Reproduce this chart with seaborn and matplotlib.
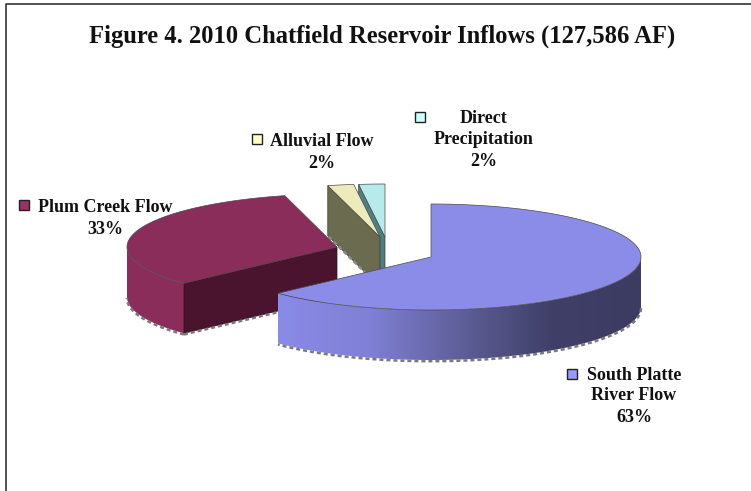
import numpy as np
import matplotlib
matplotlib.use("Agg")
import matplotlib.pyplot as plt
from matplotlib.patches import Polygon, Rectangle
import seaborn as sns

# Inflow shares, percent of the 2010 total
sources = ["South Platte River Flow", "Plum Creek Flow", "Alluvial Flow", "Direct Precipitation"]
shares = [63, 33, 2, 2]
label_lines = [["South Platte", "River Flow", "63%"],
               ["Plum Creek Flow", "33%"],
               ["Alluvial Flow", "2%"],
               ["Direct", "Precipitation", "2%"]]
title = "Figure 4. 2010 Chatfield Reservoir Inflows (127,586 AF)"

# Face colours per slice: top, outer wall, radial wall, legend key
top_colors = ["#8B8BE8", "#8B2D5A", "#EDEBBB", "#B7EAEA"]
side_colors = ["#8585E0", "#8B2D5A", "#6B6B50", "#4F7F80"]
cut_colors = ["#8585E0", "#4A142E", "#6B6B50", "#4F7F80"]
key_colors = ["#9999FF", "#993366", "#FFFFCC", "#CCFFFF"]

# Layout, in figure pixels
RX, RY, DEPTH = 210, 53, 50
apexes = [(431, 257), (337, 247), (380, 237), (385, 237)]
label_xy = [(634, 375), (105, 207), (322, 141), (484, 118)]
line_gap = [21, 22, 22, 22]
key_xy = [(572, 374), (24, 205), (257, 139), (420, 117)]
paint_order = [3, 2, 1, 0]

sns.set_theme(style="white")
plt.rcParams["font.family"] = ["Liberation Serif", "DejaVu Serif"]

fig = plt.figure(figsize=(7.51, 4.91), dpi=100, facecolor="white")
ax = fig.add_axes([0, 0, 1, 1])
ax.set_xlim(0, 751)
ax.set_ylim(491, 0)
ax.axis("off")

# Frame: only the top and left rules of the chart area show
ax.plot([751, 6, 6], [4, 4, 491], color="#333333", lw=1.2, zorder=1)

ax.text(382, 36, title, ha="center", va="center", fontsize=17.7,
        fontweight="bold", color="#111111", zorder=10)

edges = np.cumsum([0] + shares) / sum(shares) * 360.0


def rim(apex, start, stop, n=120):
    """Points along the elliptical rim, clockwise from twelve o'clock."""
    t = np.radians(np.linspace(start, stop, n))
    return np.column_stack([apex[0] + RX * np.sin(t), apex[1] - RY * np.cos(t)])


def drop(points):
    return points + np.array([0, DEPTH])


wall_ramp = sns.blend_palette(["#8A8AE8", "#8080D6", "#5F5F9A", "#3F3F68", "#3C3C62"], as_cmap=True)

z = 2
for i in paint_order:
    apex = np.array(apexes[i], float)
    t0, t1 = edges[i], edges[i + 1]

    # Outer wall for the part of the rim that faces the viewer
    lo, hi = max(t0, 90), min(t1, 270)
    if lo < hi:
        arc = rim(apex, lo, hi)
        outline = np.vstack([arc, drop(arc)[::-1]])
        if i == 0:
            shell = Polygon(outline, closed=True, fc="none", ec="none", zorder=z)
            ax.add_patch(shell)
            x0, x1 = arc[:, 0].min(), arc[:, 0].max()
            img = ax.imshow(np.linspace(0, 1, 256)[None, :], cmap=wall_ramp, aspect="auto",
                            extent=(x0, x1, arc[:, 1].max() + DEPTH, arc[:, 1].min()), zorder=z)
            img.set_clip_path(shell)
            ax.set_xlim(0, 751)
            ax.set_ylim(491, 0)
        else:
            ax.add_patch(Polygon(outline, closed=True, fc=side_colors[i], ec="none", zorder=z))
        ax.plot(*drop(arc).T + np.array([[0], [1.2]]), color="#7A7A7A", lw=1.8,
                ls=(0, (1.6, 1.2)), zorder=z)

    # Radial walls exposed by pulling the slices apart
    if i == 1:
        rim_pt = rim(apex, t0, t0, 1)[0]
        face = [apex, rim_pt, rim_pt + [0, DEPTH], apex + [0, DEPTH]]
        ax.add_patch(Polygon(face, closed=True, fc=cut_colors[i], ec="#2E0C1C", lw=0.5, zorder=z))
        ax.plot([rim_pt[0], apex[0]], [rim_pt[1] + DEPTH + 1.2, apex[1] + DEPTH + 1.2],
                color="#7A7A7A", lw=1.8, ls=(0, (1.6, 1.2)), zorder=z)
    if i in (2, 3):
        rim_pt = rim(apex, t0, t0, 1)[0]
        face = [apex, rim_pt, rim_pt + [0, DEPTH], apex + [0, DEPTH]]
        ax.add_patch(Polygon(face, closed=True, fc=cut_colors[i], ec="#3A3A30", lw=0.5, zorder=z))
        ax.plot([rim_pt[0] + 0.8, apex[0] + 0.8], [rim_pt[1] + DEPTH + 1, apex[1] + DEPTH + 1],
                color="#8A8A8A", lw=1.8, ls=(0, (1.6, 1.2)), zorder=z)

    # Top face of the slice
    top = np.vstack([apex, rim(apex, t0, t1)])
    ax.add_patch(Polygon(top, closed=True, fc=top_colors[i], ec="#4A4A4A", lw=0.5, zorder=z + 0.5))
    z += 1

# Labels with their colour keys
for i, lines in enumerate(label_lines):
    x, y = label_xy[i]
    for k, line in enumerate(lines):
        ax.text(x, y + k * line_gap[i], line, ha="center", va="center", fontsize=13,
                fontweight="bold", color="#111111", zorder=10)
    kx, ky = key_xy[i]
    ax.add_patch(Rectangle((kx - 5, ky - 5), 10, 10, fc=key_colors[i], ec="#222222", lw=1.0, zorder=10))

fig.savefig("out.png", dpi=100, facecolor="white")
